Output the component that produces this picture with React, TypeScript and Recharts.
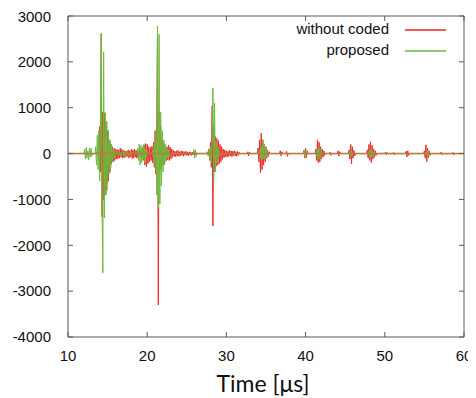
import React from 'react';
import { LineChart, Line, XAxis, YAxis, Legend, ReferenceLine } from 'recharts';

// Sampling interval of the recorded signals (µs)
const SAMPLE_STEP = 0.1;

const xTicks = [10, 20, 30, 40, 50, 60];
const yTicks = [-4000, -3000, -2000, -1000, 0, 1000, 2000, 3000];

// "without coded" (red) — bursts: start time (µs) + sampled values
const redStarts = [13.7, 27.7, 32.6, 33.9, 36.7, 37.5, 39.7, 41.2, 43.0, 44.0, 45.4, 47.7, 50.0, 51.0, 52.6, 54.9, 57.0, 58.5];
const redEcho1and2 = [
  0, 100, -150, 590, -400, 2600, -1380, 900, -1000, 880,
  -900, 700, -800, 500, -600, 300, -400, 200, -220, 150,
  -180, 120, -150, 100, -120, 90, -110, 80, -100, 120,
  -80, 90, -100, 70, -90, 60, -80, 50, -60, 80,
  -100, 60, -70, 90, -110, 80, -90, 100, -80, 70,
  -100, 60, -120, 80, -60, 90, -80, 120, -150, 180,
  -250, 220, -290, 200, -220, 150, -180, 130, -150, 160,
  -200, 250, -300, 500, -450, 600, 2620, -3300, 900, -350,
  600, -300, 300, -250, 220, -200, 180, -160, 150, -140,
  180, -150, 140, -120, 100, -80, 70, -60, 50, -70,
  60, -50, 70, -60, 40, -50, 60, -40, 50, -60,
  40, -30, 50, -40, 30, -50, 40, -30, 30, -40,
  30, -30, 40, -30, 20, -30, 0,
];
const redEcho3 = [
  0, 100, -150, 250, -300, 1040, -1580, 600, -400, 370,
  -280, 330, -250, 280, -220, 200, -180, 150, -130, 100,
  -90, 80, -70, 60, -80, 50, -60, 70, -50, 60,
  -70, 50, -40, 60, -50, 40, -60, 50, -40, 30, 0,
];
const redNoiseA = [0, 40, -50, 30, 0];
const redEcho4 = [0, 120, -180, 300, -415, 445, -350, 300, -250, 200, -180, 150, -100, 80, -60, 40, 0];
const redBlipA = [0, 60, -50, 40, 0];
const redBlipB = [0, 50, -60, 0];
const redEcho5a = [0, 80, -100, 120, -90, 60, 0];
const redEcho5 = [0, 100, -150, 300, -200, 250, -180, 150, -120, 100, -80, 60, -40, 0];
const redNoiseB = [0, 30, -40, 0];
const redBlipC = [0, 60, -50, 40, 0];
const redEcho6 = [0, 80, -120, 200, -225, 150, -100, 70, -50, 0];
const redEcho7 = [0, 80, -100, 200, -150, 260, -200, 180, -120, 100, -80, 60, -40, 0];
const redNoiseC = [0, 30, -30, 20, 0];
const redNoiseD = [0, 25, -30, 0];
const redBlipD = [0, 50, -70, 60, -40, 0];
const redEcho8 = [0, 60, -100, 190, -175, 120, -90, 60, -40, 0];
const redNoiseE = [0, 30, -25, 0];
const redNoiseF = [0, 25, -30, 0];
const redBursts = [
  redEcho1and2, redEcho3, redNoiseA, redEcho4, redBlipA, redBlipB, redEcho5a, redEcho5, redNoiseB,
  redBlipC, redEcho6, redEcho7, redNoiseC, redNoiseD, redBlipD, redEcho8, redNoiseE, redNoiseF,
];

// "proposed" (green)
const greenStarts = [12.0, 13.4, 16.2, 18.7, 20.6, 25.8, 27.5, 34.1, 39.7, 41.3, 45.5, 47.9, 55.1];
const greenPre = [0, 90, -120, 130, -100, 60, -140, 110, -80, 120, -60, 0];
const greenEcho1 = [
  0, 150, -250, 400, -350, 500, -600, 700, 2630, -1200,
  -2600, 2220, -1400, 900, -900, 700, -650, 500, -450, 300,
  -300, 200, -180, 120, -100, 80, -60, 0,
];
const greenNoiseA = [0, 50, -40, 60, -50, 30, -40, 50, -30, 40, -60, 30, -20, 40, -30, 20, -40, 30, -20, 40, 0];
const greenPre2 = [0, 120, -150, 210, -250, 180, -200, 150, -120, 200, -180, 100, -90, 60, 0];
const greenEcho2 = [
  0, 80, -120, 200, -300, 500, -900, 2780, -1190, 2600,
  -1100, 900, -700, 500, -400, 300, -250, 200, -150, 120,
  -100, 80, -60, 0,
];
const greenBlipA = [0, 90, -100, 80, -60, 0];
const greenEcho3 = [0, 40, -60, 80, -100, 150, -200, 300, 1430, -610, 1100, -400, 250, -200, 150, -100, 60, -40, 0];
const greenEcho4 = [0, 80, -100, 150, -140, 300, -120, 200, -100, 120, -80, 60, 0];
const greenBlipB = [0, 60, -70, 80, -50, 0];
const greenEcho5 = [0, 80, -100, 130, -120, 110, -90, 60, 0];
const greenEcho6 = [0, 50, -60, 70, -50, 0];
const greenEcho7 = [0, 60, -80, 90, -90, 80, -60, 40, 0];
const greenEcho8 = [0, 40, -60, 60, -40, 0];
const greenBursts = [
  greenPre, greenEcho1, greenNoiseA, greenPre2, greenEcho2, greenBlipA, greenEcho3,
  greenEcho4, greenBlipB, greenEcho5, greenEcho6, greenEcho7, greenEcho8,
];

const buildSeries = (starts: number[], bursts: number[][]) => {
  const pts: { t: number; v: number }[] = [{ t: 10, v: 0 }];
  starts.forEach((s, i) => {
    bursts[i].forEach((v, k) => {
      pts.push({ t: Math.round((s + k * SAMPLE_STEP) * 1000) / 1000, v });
    });
  });
  pts.push({ t: 60, v: 0 });
  return pts;
};

const redData = buildSeries(redStarts, redBursts);
const greenData = buildSeries(greenStarts, greenBursts);

const RED = '#ee2a2a';
const GREEN = '#69bd3c';
const AXIS = '#5a5a5a';
const FONT = '"Liberation Sans", Arial, sans-serif';

const legendItems = [
  { name: 'without coded', color: '#f05a5a' },
  { name: 'proposed', color: '#8ccc70' },
];

const LegendBox = () => (
  <div style={{ fontFamily: FONT, fontSize: 15, color: '#111' }}>
    {legendItems.map((it) => (
      <div key={it.name} style={{ display: 'flex', alignItems: 'center', height: 21 }}>
        <span style={{ width: 130, textAlign: 'right', whiteSpace: 'nowrap' }}>{it.name}</span>
        <span style={{ width: 41, height: 2, background: it.color, marginLeft: 16, marginTop: 3 }} />
      </div>
    ))}
  </div>
);

// Mirror axes show only their tick marks, no labels
const NoLabel = () => <g />;

export default function App() {
  return (
    <LineChart
      width={468}
      height={390}
      margin={{ top: 7, right: 11, bottom: 0, left: 0 }}
      style={{ overflow: 'visible' }}
    >
      <XAxis
        xAxisId="bottom"
        type="number"
        dataKey="t"
        domain={[10, 60]}
        ticks={xTicks}
        allowDataOverflow
        height={61}
        tickSize={-5}
        tickMargin={18}
        tick={{ fill: '#111', fontSize: 15, fontFamily: FONT }}
        axisLine={{ stroke: AXIS }}
        tickLine={{ stroke: AXIS }}
        label={{
          value: 'Time [μs]',
          position: 'insideBottom',
          offset: 6,
          dx: -3,
          style: { fontFamily: 'Lato, "Open Sans", sans-serif', fontSize: 23, fill: '#111' },
        }}
      />
      <XAxis
        xAxisId="top"
        orientation="top"
        type="number"
        dataKey="t"
        domain={[10, 60]}
        ticks={xTicks}
        allowDataOverflow
        height={1}
        tickSize={-5}
        tick={NoLabel}
        axisLine={{ stroke: AXIS }}
        tickLine={{ stroke: AXIS }}
      />
      <YAxis
        yAxisId="left"
        type="number"
        domain={[-4000, 3000]}
        ticks={yTicks}
        allowDataOverflow
        width={60}
        tickSize={-5}
        tickMargin={22}
        tick={{ fill: '#111', fontSize: 15, fontFamily: FONT }}
        axisLine={{ stroke: AXIS }}
        tickLine={{ stroke: AXIS }}
      />
      <YAxis
        yAxisId="right"
        orientation="right"
        type="number"
        domain={[-4000, 3000]}
        ticks={yTicks}
        allowDataOverflow
        width={1}
        tickSize={-5}
        tick={NoLabel}
        axisLine={{ stroke: AXIS }}
        tickLine={{ stroke: AXIS }}
      />
      <Legend
        layout="vertical"
        align="center"
        verticalAlign="middle"
        content={<LegendBox />}
        wrapperStyle={{ position: 'absolute', left: 251, top: 10, width: 200, height: 42 }}
      />
      <Line
        xAxisId="bottom"
        yAxisId="left"
        data={redData}
        dataKey="v"
        name="without coded"
        type="linear"
        stroke={RED}
        strokeWidth={1}
        dot={false}
        activeDot={false}
        isAnimationActive={false}
      />
      <Line
        xAxisId="top"
        yAxisId="right"
        data={greenData}
        dataKey="v"
        name="proposed"
        type="linear"
        stroke={GREEN}
        strokeWidth={1}
        dot={false}
        activeDot={false}
        isAnimationActive={false}
      />
      <ReferenceLine xAxisId="bottom" yAxisId="left" y={0} stroke="#b87a3e" strokeWidth={1.5} />
    </LineChart>
  );
}
